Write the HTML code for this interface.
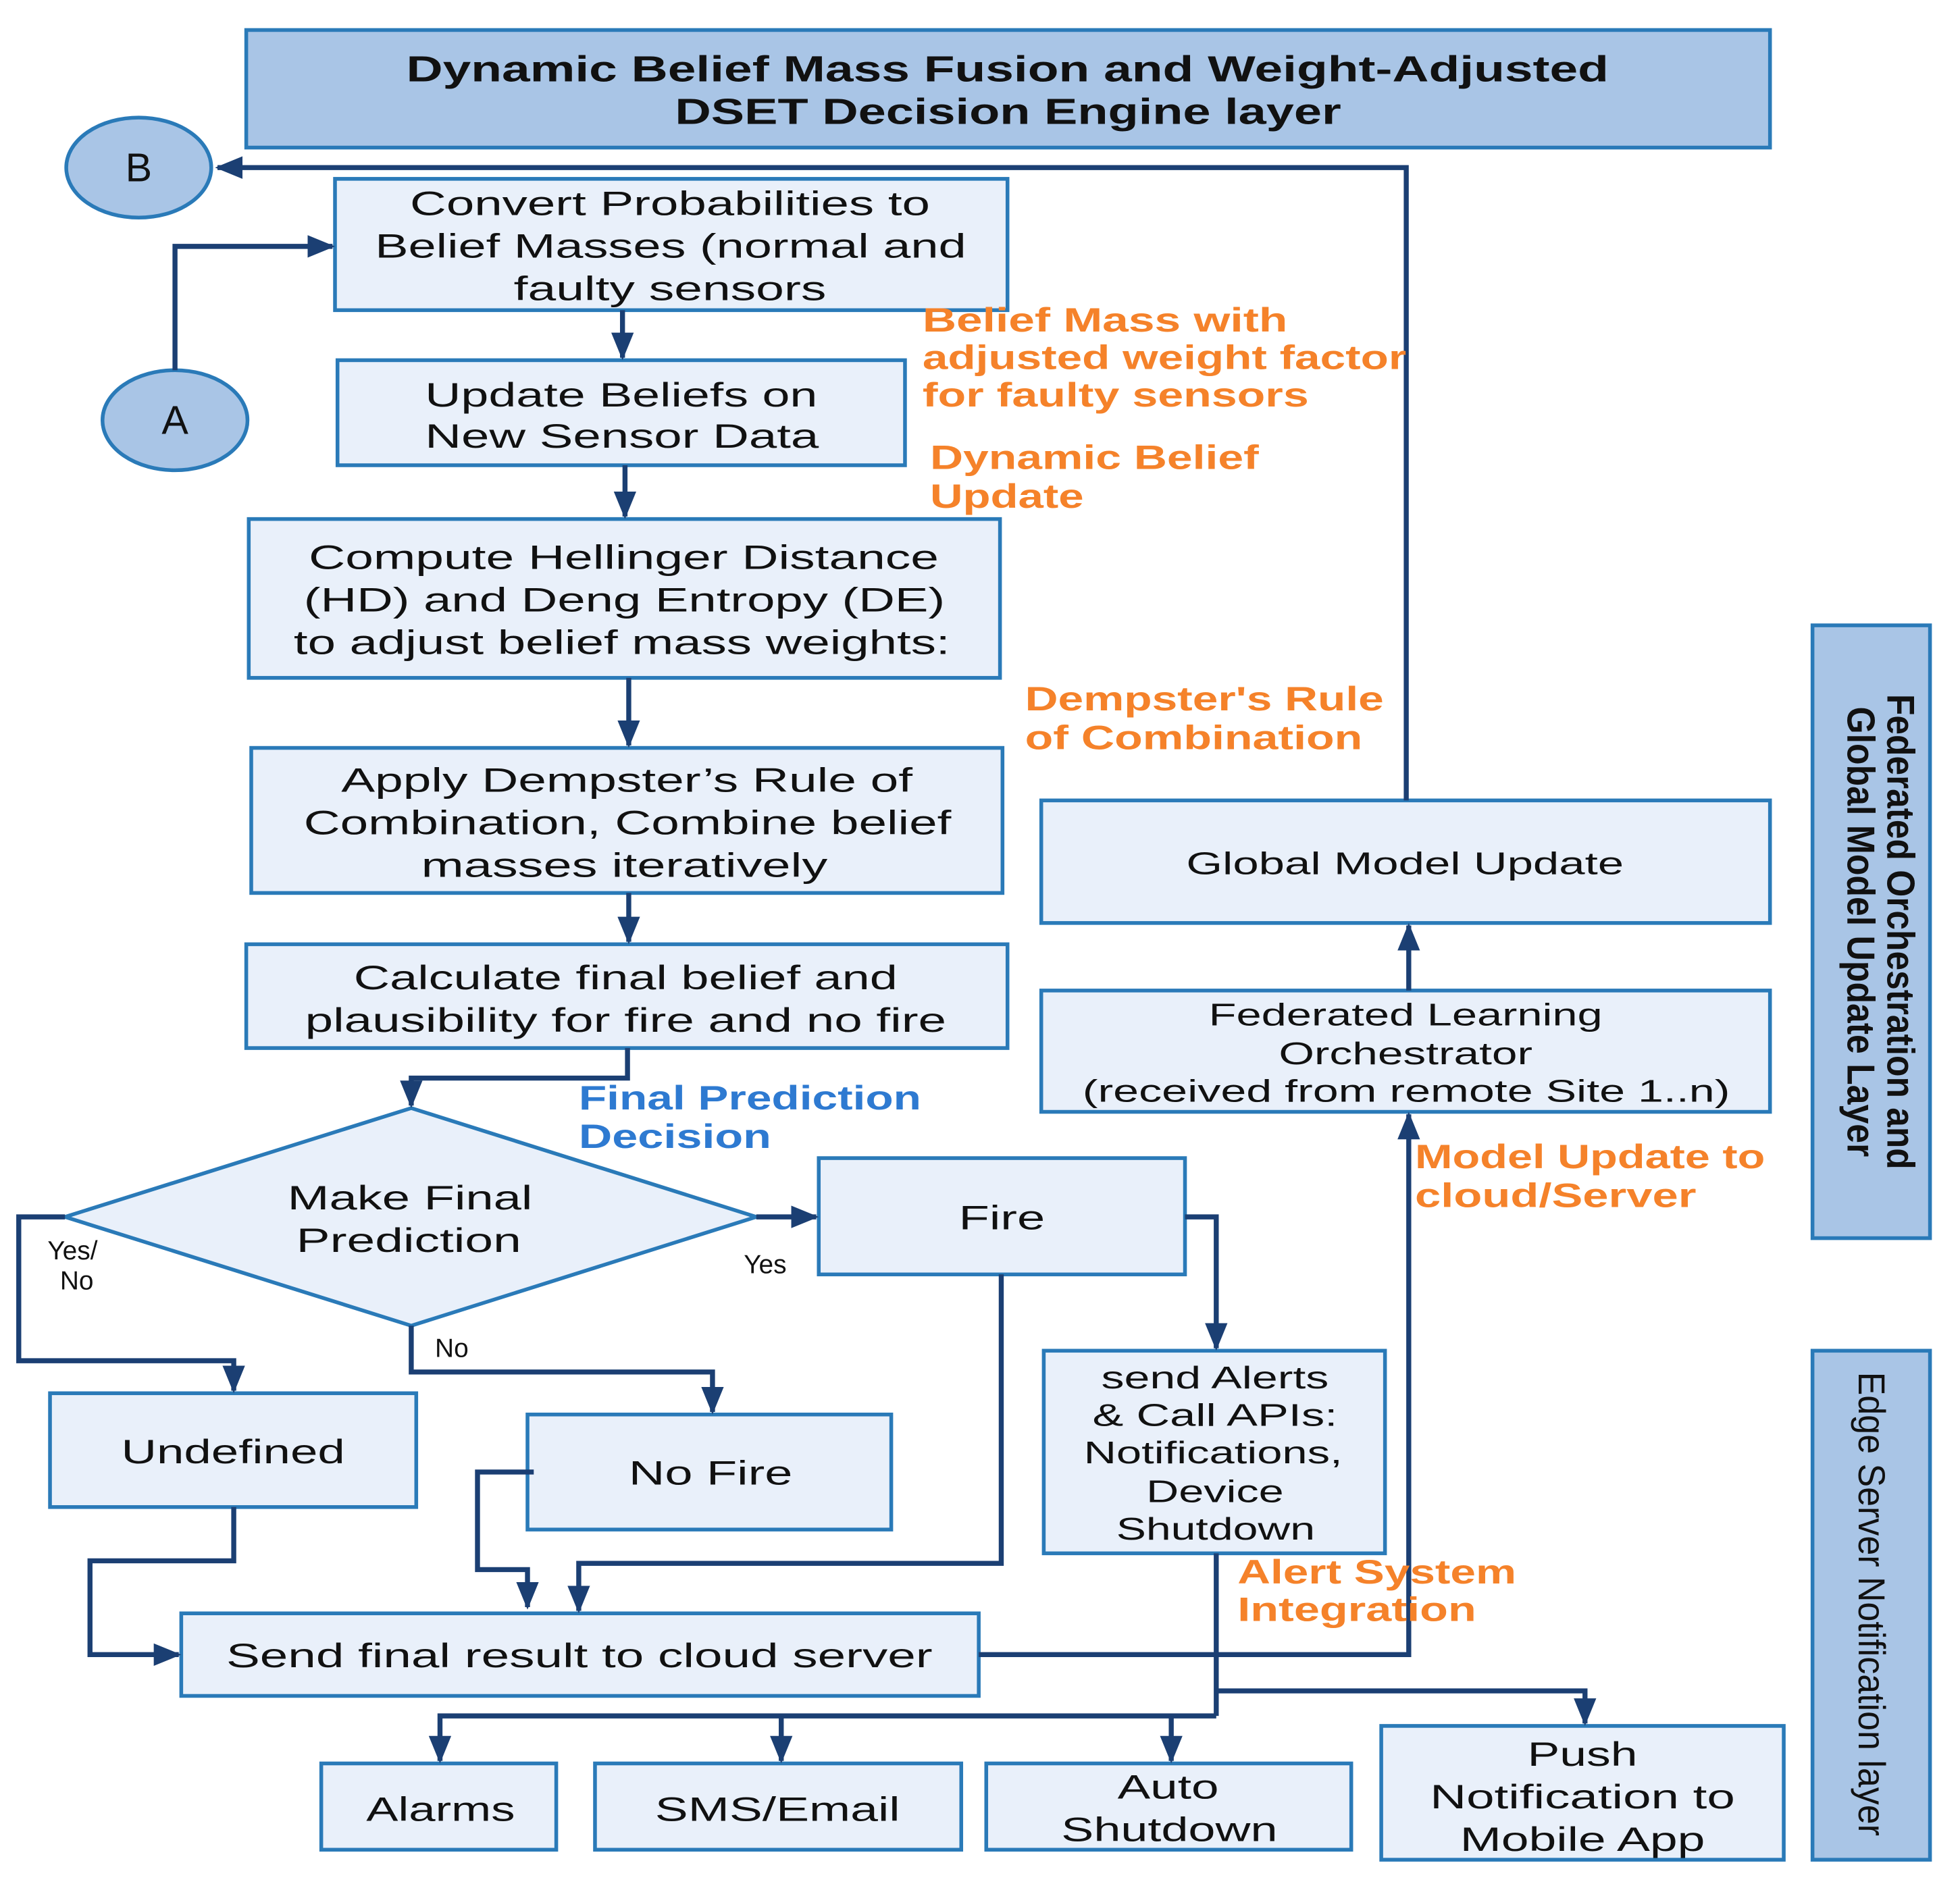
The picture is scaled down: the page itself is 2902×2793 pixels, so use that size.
<!DOCTYPE html>
<html><head><meta charset="utf-8"><style>html,body{margin:0;padding:0;background:#fff}svg{display:block}</style></head>
<body>
<svg width="2902" height="2793" viewBox="0 0 1568 1508" preserveAspectRatio="none" xmlns="http://www.w3.org/2000/svg">
<defs>
<marker id="ar2" markerWidth="22" markerHeight="18" refX="20" refY="9" orient="auto" markerUnits="userSpaceOnUse"><path d="M0,0 L22,9 L0,18 z" fill="#1b3f73"/></marker>
</defs>
<g fill="#e9f0fa" stroke="#2a7ab8" stroke-width="3">
<rect x="197" y="24" width="1219" height="94" fill="#a9c5e6"/>
<ellipse cx="111" cy="134" rx="58" ry="40" fill="#a9c5e6"/>
<ellipse cx="140" cy="336" rx="58" ry="40" fill="#a9c5e6"/>
<rect x="268" y="143" width="538" height="105"/>
<rect x="270" y="288" width="454" height="84"/>
<rect x="199" y="415" width="601" height="127"/>
<rect x="201" y="598" width="601" height="116"/>
<rect x="197" y="755" width="609" height="83"/>
<polygon points="329,886 605,973 329,1060 52,973"/>
<rect x="655" y="926" width="293" height="93"/>
<rect x="40" y="1114" width="293" height="91"/>
<rect x="422" y="1131" width="291" height="92"/>
<rect x="835" y="1080" width="273" height="162"/>
<rect x="145" y="1290" width="638" height="66"/>
<rect x="257" y="1410" width="188" height="69"/>
<rect x="476" y="1410" width="293" height="69"/>
<rect x="789" y="1410" width="292" height="69"/>
<rect x="1105" y="1380" width="322" height="107"/>
<rect x="833" y="640" width="583" height="98"/>
<rect x="833" y="792" width="583" height="97"/>
<rect x="1450" y="500" width="94" height="490" fill="#a9c5e6"/>
<rect x="1450" y="1080" width="94" height="407" fill="#a9c5e6"/>
</g>
<g fill="none" stroke="#1b3f73" stroke-width="4">
<path d="M1125,640 V134 H174" marker-end="url(#ar2)"/>
<path d="M140,296 V197 H266" marker-end="url(#ar2)"/>
<path d="M498,248 V286" marker-end="url(#ar2)"/>
<path d="M500,372 V413" marker-end="url(#ar2)"/>
<path d="M503,542 V596" marker-end="url(#ar2)"/>
<path d="M503,714 V753" marker-end="url(#ar2)"/>
<path d="M502,838 V862 H329 V884" marker-end="url(#ar2)"/>
<path d="M605,973 H653" marker-end="url(#ar2)"/>
<path d="M52,973 H15 V1088 H187 V1112" marker-end="url(#ar2)"/>
<path d="M329,1060 V1097 H570 V1129" marker-end="url(#ar2)"/>
<path d="M948,973 H973 V1078" marker-end="url(#ar2)"/>
<path d="M801,1019 V1250 H463 V1288" marker-end="url(#ar2)"/>
<path d="M427,1177 H382 V1255 H422 V1285" marker-end="url(#ar2)"/>
<path d="M187,1205 V1248 H72 V1323 H143" marker-end="url(#ar2)"/>
<path d="M783,1323 H1127 V891" marker-end="url(#ar2)"/>
<path d="M1127,792 V740" marker-end="url(#ar2)"/>
<path d="M973,1242 V1372"/>
<path d="M973,1372 H352 V1408" marker-end="url(#ar2)"/>
<path d="M625,1372 V1408" marker-end="url(#ar2)"/>
<path d="M937,1372 V1408" marker-end="url(#ar2)"/>
<path d="M973,1352 H1268 V1378" marker-end="url(#ar2)"/>
</g>
<g font-family="Liberation Sans, sans-serif" fill="#111" font-size="27">
<text x="325" y="65" font-weight="bold" font-size="29" textLength="962" lengthAdjust="spacingAndGlyphs">Dynamic Belief Mass Fusion and Weight-Adjusted</text>
<text x="540" y="99" font-weight="bold" font-size="29" textLength="533" lengthAdjust="spacingAndGlyphs">DSET Decision Engine layer</text>
<text x="111" y="145" font-size="32" text-anchor="middle">B</text>
<text x="140" y="347" font-size="32" text-anchor="middle">A</text>
<text x="328" y="172" textLength="416" lengthAdjust="spacingAndGlyphs">Convert Probabilities to</text>
<text x="300" y="206" textLength="473" lengthAdjust="spacingAndGlyphs">Belief Masses (normal and</text>
<text x="411" y="240" textLength="250" lengthAdjust="spacingAndGlyphs">faulty sensors</text>
<text x="340" y="325" textLength="314" lengthAdjust="spacingAndGlyphs">Update Beliefs on</text>
<text x="340" y="358" textLength="315" lengthAdjust="spacingAndGlyphs">New Sensor Data</text>
<text x="247" y="455" textLength="504" lengthAdjust="spacingAndGlyphs">Compute Hellinger Distance</text>
<text x="243" y="489" textLength="513" lengthAdjust="spacingAndGlyphs">(HD) and Deng Entropy (DE)</text>
<text x="235" y="523" textLength="525" lengthAdjust="spacingAndGlyphs">to adjust belief mass weights:</text>
<text x="273" y="633" textLength="457" lengthAdjust="spacingAndGlyphs">Apply Dempster’s Rule of</text>
<text x="243" y="667" textLength="518" lengthAdjust="spacingAndGlyphs">Combination, Combine belief</text>
<text x="337" y="701" textLength="325" lengthAdjust="spacingAndGlyphs">masses iteratively</text>
<text x="283" y="791" textLength="435" lengthAdjust="spacingAndGlyphs">Calculate final belief and</text>
<text x="244" y="825" textLength="513" lengthAdjust="spacingAndGlyphs">plausibility for fire and no fire</text>
<text x="230" y="967" textLength="196" lengthAdjust="spacingAndGlyphs">Make Final</text>
<text x="237" y="1001" textLength="180" lengthAdjust="spacingAndGlyphs">Prediction</text>
<text x="767" y="983" textLength="69" lengthAdjust="spacingAndGlyphs">Fire</text>
<text x="97" y="1170" textLength="179" lengthAdjust="spacingAndGlyphs">Undefined</text>
<text x="503" y="1187" textLength="131" lengthAdjust="spacingAndGlyphs">No Fire</text>
<text x="181" y="1333" textLength="565" lengthAdjust="spacingAndGlyphs">Send final result to cloud server</text>
<text x="293" y="1456" textLength="119" lengthAdjust="spacingAndGlyphs">Alarms</text>
<text x="524" y="1456" textLength="196" lengthAdjust="spacingAndGlyphs">SMS/Email</text>
<text x="894" y="1438" textLength="81" lengthAdjust="spacingAndGlyphs">Auto</text>
<text x="849" y="1472" textLength="173" lengthAdjust="spacingAndGlyphs">Shutdown</text>
<text x="1222" y="1412" textLength="88" lengthAdjust="spacingAndGlyphs">Push</text>
<text x="1144" y="1446" textLength="244" lengthAdjust="spacingAndGlyphs">Notification to</text>
<text x="1168" y="1480" textLength="196" lengthAdjust="spacingAndGlyphs">Mobile App</text>
<g font-size="25">
<text x="881" y="1110" textLength="182" lengthAdjust="spacingAndGlyphs">send Alerts</text>
<text x="874" y="1140" textLength="196" lengthAdjust="spacingAndGlyphs">&amp; Call APIs:</text>
<text x="867" y="1170" textLength="207" lengthAdjust="spacingAndGlyphs">Notifications,</text>
<text x="917" y="1201" textLength="110" lengthAdjust="spacingAndGlyphs">Device</text>
<text x="893" y="1231" textLength="159" lengthAdjust="spacingAndGlyphs">Shutdown</text>
<text x="949" y="699" textLength="350" lengthAdjust="spacingAndGlyphs">Global  Model Update</text>
<text x="967" y="820" textLength="315" lengthAdjust="spacingAndGlyphs">Federated Learning</text>
<text x="1023" y="851" textLength="203" lengthAdjust="spacingAndGlyphs">Orchestrator</text>
<text x="866" y="881" textLength="518" lengthAdjust="spacingAndGlyphs">(received from  remote Site 1..n)</text>
</g>
<g font-size="31" font-weight="bold">
<text transform="translate(1510,555) rotate(90)" textLength="380" lengthAdjust="spacingAndGlyphs">Federated Orchestration and</text>
<text transform="translate(1478,565) rotate(90)" textLength="360" lengthAdjust="spacingAndGlyphs">Global Model Update Layer</text>
</g>
<text transform="translate(1487,1097) rotate(90)" font-size="30" textLength="371" lengthAdjust="spacingAndGlyphs">Edge Server Notification layer</text>
</g>
<g font-family="Liberation Sans, sans-serif" font-weight="bold" font-size="27" fill="#f5822a">
<text x="738" y="265" textLength="292" lengthAdjust="spacingAndGlyphs">Belief Mass  with</text>
<text x="738" y="295" textLength="387" lengthAdjust="spacingAndGlyphs">adjusted weight factor</text>
<text x="738" y="325" textLength="309" lengthAdjust="spacingAndGlyphs">for faulty sensors</text>
<text x="744" y="375" textLength="263" lengthAdjust="spacingAndGlyphs">Dynamic Belief</text>
<text x="744" y="406" textLength="123" lengthAdjust="spacingAndGlyphs">Update</text>
<text x="820" y="568" textLength="287" lengthAdjust="spacingAndGlyphs">Dempster's Rule</text>
<text x="820" y="599" textLength="270" lengthAdjust="spacingAndGlyphs">of Combination</text>
<text x="1132" y="934" textLength="280" lengthAdjust="spacingAndGlyphs">Model Update to</text>
<text x="1132" y="965" textLength="225" lengthAdjust="spacingAndGlyphs">cloud/Server</text>
<text x="990" y="1266" textLength="223" lengthAdjust="spacingAndGlyphs">Alert System</text>
<text x="990" y="1296" textLength="191" lengthAdjust="spacingAndGlyphs">Integration</text>
<text x="463" y="887" fill="#2e7ad1" textLength="274" lengthAdjust="spacingAndGlyphs">Final Prediction</text>
<text x="463" y="918" fill="#2e7ad1" textLength="154" lengthAdjust="spacingAndGlyphs">Decision</text>
</g>
<g font-family="Liberation Sans, sans-serif" font-size="21" fill="#111">
<text x="38" y="1007">Yes/</text>
<text x="48" y="1031">No</text>
<text x="595" y="1018">Yes</text>
<text x="348" y="1085">No</text>
</g>
</svg>
</body></html>
